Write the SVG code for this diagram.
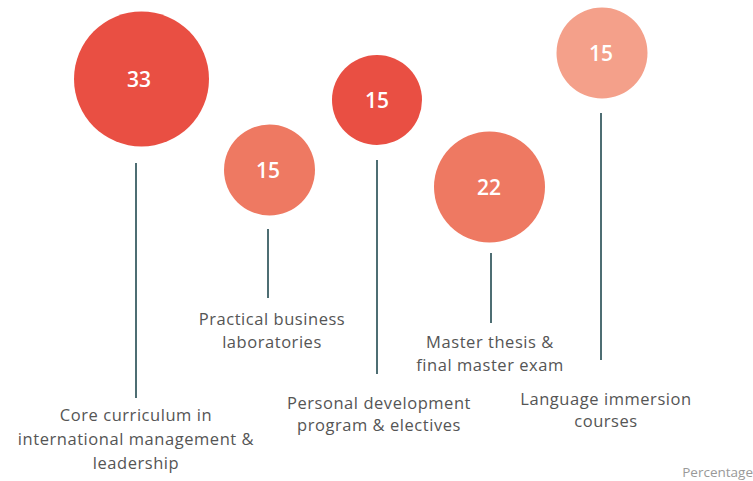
<svg xmlns="http://www.w3.org/2000/svg" width="753" height="481" viewBox="0 0 753 481">
<style>
.lbl{font-family:"Open Sans","Noto Sans",sans-serif;font-size:16.5px;letter-spacing:0.55px;fill:#555;text-anchor:middle}
.num{font-family:"Open Sans","Noto Sans",sans-serif;font-size:21px;font-weight:600;fill:#fff;text-anchor:middle}
.c1{fill:#E94F43}.c2{fill:#EE7962}.c3{fill:#F4A08A}
.ln{stroke:#4E6E73;stroke-width:2}
</style>
<rect width="753" height="481" fill="#fff"/>
<g id="connectors">
<line class="ln" x1="136" y1="163" x2="136" y2="398"/>
<line class="ln" x1="268" y1="229" x2="268" y2="298"/>
<line class="ln" x1="377" y1="160" x2="377" y2="374"/>
<line class="ln" x1="491" y1="253" x2="491" y2="323"/>
<line class="ln" x1="601" y1="113" x2="601" y2="360"/>
</g>
<g id="core">
<circle class="c1" cx="141.5" cy="79" r="67.5"/>
<text class="num" x="139" y="87">33</text>
<text class="lbl" x="136" y="421">Core curriculum in</text>
<text class="lbl" x="136" y="445">international management &amp;</text>
<text class="lbl" x="136" y="469">leadership</text>
</g>
<g id="practical">
<circle class="c2" cx="269.5" cy="170" r="45.5"/>
<text class="num" x="268" y="178">15</text>
<text class="lbl" x="272" y="325">Practical business</text>
<text class="lbl" x="272" y="348">laboratories</text>
</g>
<g id="personal">
<circle class="c1" cx="377" cy="100" r="45"/>
<text class="num" x="377" y="108">15</text>
<text class="lbl" x="379" y="409">Personal development</text>
<text class="lbl" x="379" y="431">program &amp; electives</text>
</g>
<g id="thesis">
<circle class="c2" cx="489.5" cy="187" r="55.5"/>
<text class="num" x="489" y="195">22</text>
<text class="lbl" x="490" y="348">Master thesis &amp;</text>
<text class="lbl" x="490" y="371">final master exam</text>
</g>
<g id="language">
<circle class="c3" cx="602" cy="53" r="45.5"/>
<text class="num" x="601" y="61">15</text>
<text class="lbl" x="606" y="405">Language immersion</text>
<text class="lbl" x="606" y="427">courses</text>
</g>
<text x="753" y="477" style="font-family:'Open Sans','Noto Sans',sans-serif;font-size:13.5px;fill:#999;text-anchor:end">Percentage</text>
</svg>
